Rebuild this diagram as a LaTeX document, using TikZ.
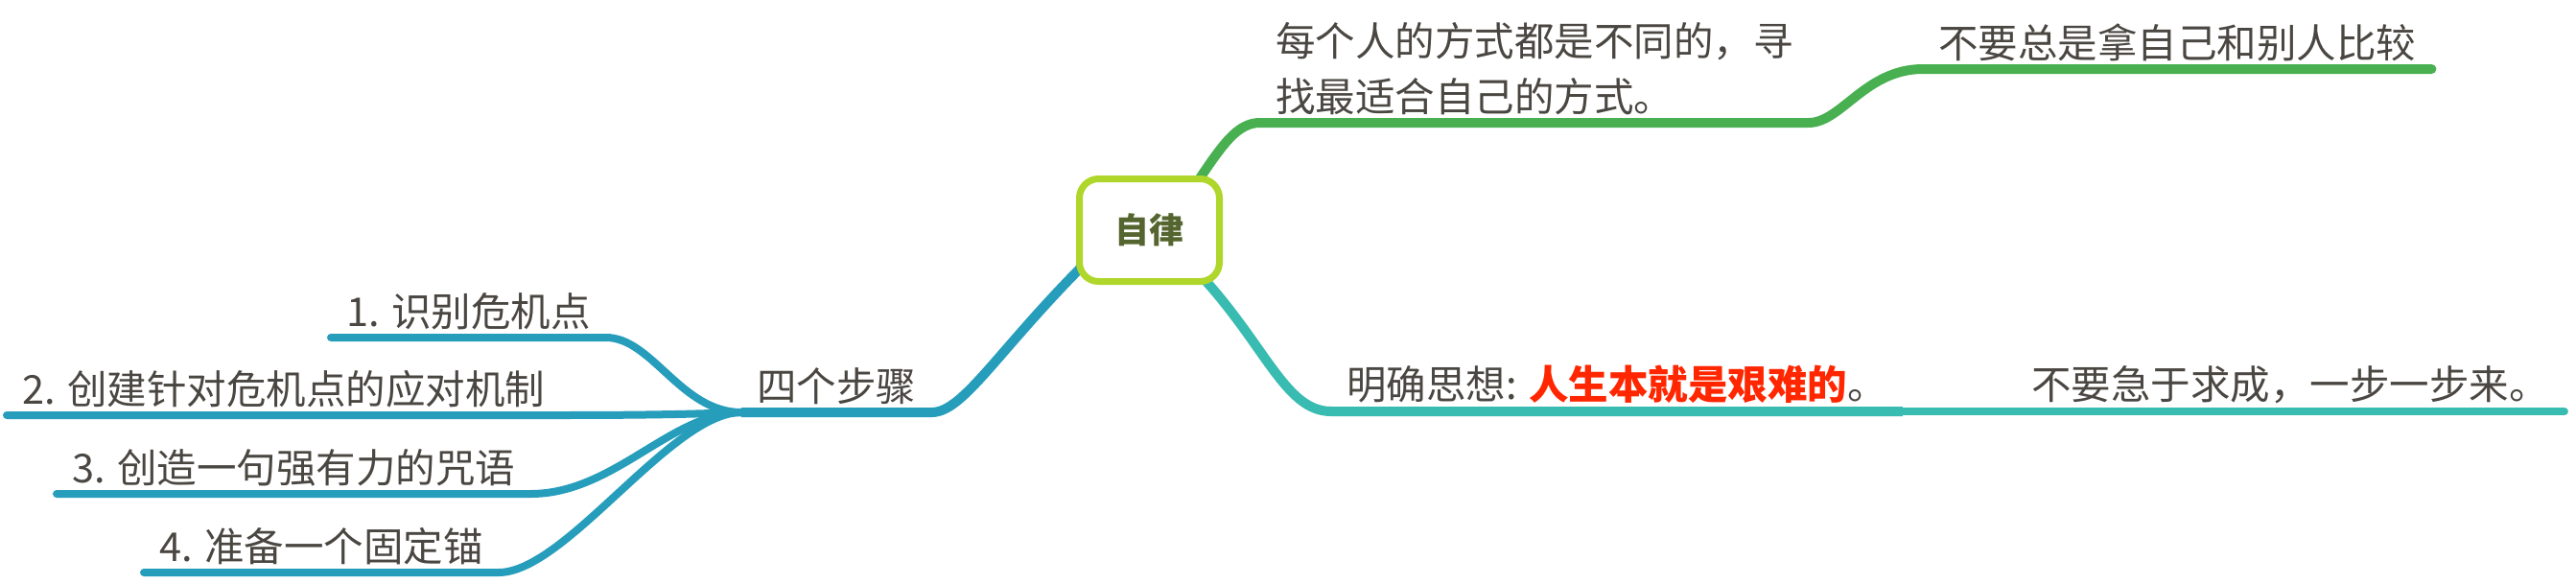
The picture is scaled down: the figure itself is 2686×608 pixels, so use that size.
\documentclass[tikz,border=0pt]{standalone}
\usepackage{fontspec}
\setmainfont{Noto Sans CJK SC}
\usepackage{tikz}
\usetikzlibrary{backgrounds}

\definecolor{rootlime}{HTML}{AFD62A}
\definecolor{roottext}{HTML}{55652F}
\definecolor{branchgreen}{HTML}{48B050}
\definecolor{branchteal}{HTML}{38BBB0}
\definecolor{branchblue}{HTML}{279DBC}
\definecolor{txtgray}{HTML}{4A4641}
\definecolor{txtred}{HTML}{FF2600}

\tikzset{
  topic/.style={
    anchor=south west,
    inner xsep=16pt,
    inner ysep=8pt,
    text=txtgray,
    align=left,
    font=\fontsize{41.5}{58}\selectfont},
  mainline/.style={line width=10pt},
  subline/.style={line width=8pt, line cap=round},
}

\begin{document}
\begin{tikzpicture}[x=1pt,y=-1pt]
\useasboundingbox (0,0) rectangle (2686,608);

\node[
  draw=rootlime,
  fill=white,
  line width=7pt,
  rounded corners=20pt,
  minimum width=146pt,
  minimum height=107pt,
  text=roottext,
  font=\fontsize{36}{40}\selectfont\bfseries] (root) at (1198.5,240) {自律};

% right side
\node[topic] (same) at (1314,128) {每个人的方式都是不同的，寻\\找最适合自己的方式。};
\node[topic] (compare) at (2005,72) {不要总是拿自己和别人比较};
\node[topic] (idea) at (1388,429)
  {明确思想: {\bfseries\color{txtred}人生本就是艰难的}。};
\node[topic] (slow) at (2102,429) {不要急于求成，一步一步来。};

% left side
\node[topic] (steps) at (773,430) {四个步骤};
\node[topic] (stepa) at (345,352) {1. 识别危机点};
\node[topic] (stepb) at (7,433) {2. 创建针对危机点的应对机制};
\node[topic] (stepc) at (59,515) {3. 创造一句强有力的咒语};
\node[topic] (stepd) at (150,597) {4. 准备一个固定锚};

\begin{scope}[on background layer]
\draw[mainline, branchgreen] (1245,195) .. controls (1275,150) and (1290,128) .. (same.south west)
  -- (same.south east);
\draw[mainline, branchgreen, line cap=round] (same.south east)
  .. controls (1920,128) and (1945,72) .. (compare.south west) -- (compare.south east);

\draw[mainline, branchteal] (1250,285) .. controls (1320,360) and (1340,429) .. (idea.south west)
  -- (idea.south east);
\draw[subline, branchteal] (idea.south east) -- (slow.south east);

\draw[mainline, branchblue] (1138,268) .. controls (1040,365) and (1005,430) .. (steps.south east)
  -- (steps.south west);
\draw[subline, branchblue] (steps.south west)
  .. controls (710,430) and (680,352) .. (stepa.south east) -- (stepa.south west);
\draw[subline, branchblue] (steps.south west)
  .. controls (740,431) and (700,433) .. (stepb.south east) -- (stepb.south west);
\draw[subline, branchblue] (steps.south west)
  .. controls (700,430) and (640,515) .. (stepc.south east) -- (stepc.south west);
\draw[subline, branchblue] (steps.south west)
  .. controls (700,430) and (590,597) .. (stepd.south east) -- (stepd.south west);
\end{scope}
\end{tikzpicture}
\end{document}
